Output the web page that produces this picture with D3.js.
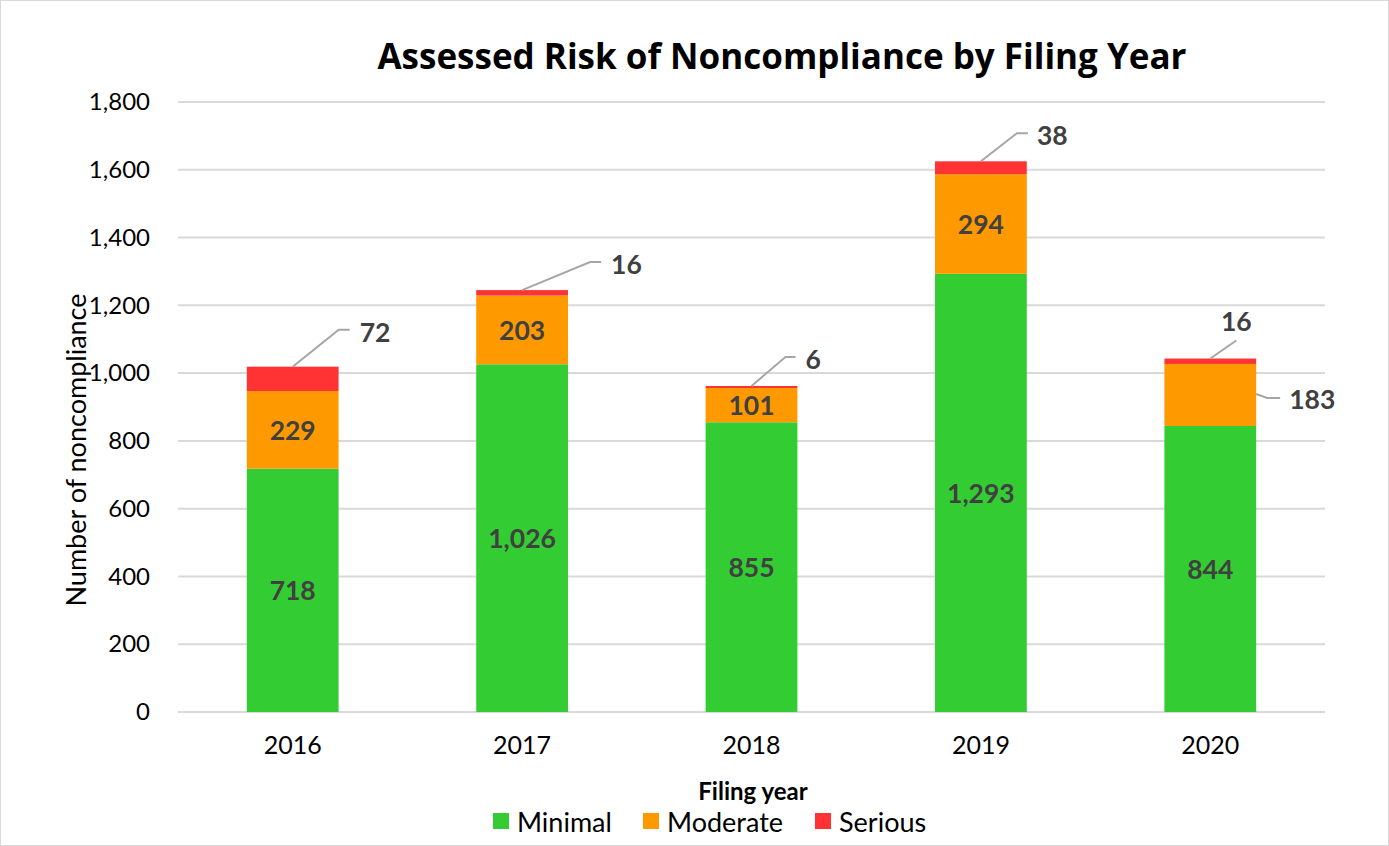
<!DOCTYPE html>
<html>
<head>
<meta charset="utf-8">
<script src="https://cdn.jsdelivr.net/npm/d3@7.9.0/dist/d3.min.js"></script>
<style>
  body { margin: 0; background: #fff; }
  svg text { font-family: Lato, "Open Sans", sans-serif; }
</style>
</head>
<body>
<svg id="chart" width="1389" height="846"></svg>
<script>
// chart data
const years = ['2016', '2017', '2018', '2019', '2020'];
const minimal = [718, 1026, 855, 1293, 844];
const moderate = [229, 203, 101, 294, 183];
const serious = [72, 16, 6, 38, 16];
const seriesNames = ['Minimal', 'Moderate', 'Serious'];
const yTicks = [0, 200, 400, 600, 800, 1000, 1200, 1400, 1600, 1800];

const colors = { Minimal: '#33cc33', Moderate: '#ff9900', Serious: '#ff3333' };

// callout placement for the small labels (pixel offsets from the anchor)
const seriousCallouts = [
  { elbow: [46, -37], end: 57, text: 67, dy: 0, mode: 'side' },
  { elbow: [68, -28], end: 79, text: 89, dy: 0, mode: 'side' },
  { elbow: [34, -29], end: 44, text: 54, dy: 0, mode: 'side' },
  { elbow: [36, -28], end: 47, text: 56, dy: 0, mode: 'side' },
  { elbow: [26, -18], end: 26, text: 26, dy: -38, mode: 'top' }
];

const svg = d3.select('#chart');
const W = 1389, H = 846;
const margin = { left: 178, right: 64, top: 102, bottom: 134 };

// outer border
svg.append('rect')
  .attr('x', 0.5).attr('y', 0.5)
  .attr('width', W - 1).attr('height', H - 1)
  .attr('fill', '#fff').attr('stroke', '#d9d9d9');

const x = d3.scaleBand()
  .domain(years)
  .range([margin.left, W - margin.right])
  .paddingInner(0.6)
  .paddingOuter(0.3);

const y = d3.scaleLinear()
  .domain([0, 1800])
  .range([H - margin.bottom, margin.top]);

// gridlines
svg.append('g')
  .selectAll('line')
  .data(yTicks)
  .join('line')
  .attr('x1', margin.left).attr('x2', W - margin.right)
  .attr('y1', d => y(d)).attr('y2', d => y(d))
  .attr('stroke', '#d9d9d9').attr('stroke-width', 2);

// y axis labels
const yAxis = d3.axisLeft(y).tickValues(yTicks).tickFormat(d3.format(',')).tickSize(0).tickPadding(28);
svg.append('g')
  .attr('transform', `translate(${margin.left},0)`)
  .call(yAxis)
  .call(g => g.select('.domain').remove())
  .selectAll('text')
  .attr('font-size', 24).attr('fill', '#000')
  .style('font-family', 'Lato, sans-serif');

// x axis labels
const xAxis = d3.axisBottom(x).tickSize(0).tickPadding(24);
svg.append('g')
  .attr('transform', `translate(0,${y(0)})`)
  .call(xAxis)
  .call(g => g.select('.domain').remove())
  .selectAll('text')
  .attr('font-size', 25).attr('fill', '#000')
  .style('font-family', 'Lato, sans-serif');

// stack the series
const rows = years.map((yr, i) => ({
  year: yr, Minimal: minimal[i], Moderate: moderate[i], Serious: serious[i]
}));
const stacked = d3.stack().keys(seriesNames)(rows);

svg.append('g')
  .selectAll('g')
  .data(stacked)
  .join('g')
  .attr('fill', d => colors[d.key])
  .selectAll('rect')
  .data(d => d)
  .join('rect')
  .attr('x', d => x(d.data.year))
  .attr('width', x.bandwidth())
  .attr('y', d => y(d[1]))
  .attr('height', d => y(d[0]) - y(d[1]));

const labelColor = '#404040';
const labelSize = 26.5;
const fmt = d3.format(',');

// inside labels for minimal and moderate (2020 moderate goes outside)
stacked.slice(0, 2).forEach(layer => {
  layer.forEach((d, i) => {
    if (layer.key === 'Moderate' && i === 4) return;
    svg.append('text')
      .attr('x', x(d.data.year) + x.bandwidth() / 2)
      .attr('y', (y(d[0]) + y(d[1])) / 2)
      .attr('text-anchor', 'middle')
      .attr('dominant-baseline', 'central')
      .attr('font-size', labelSize).attr('font-weight', 'bold')
      .attr('fill', labelColor)
      .text(fmt(d[1] - d[0]));
  });
});

// serious labels with leader lines
const leader = svg.append('g').attr('fill', 'none').attr('stroke', '#a6a6a6').attr('stroke-width', 2);
stacked[2].forEach((d, i) => {
  const c = seriousCallouts[i];
  const x0 = x(d.data.year) + x.bandwidth() / 2;
  const y0 = y(d[1]);
  const pts = [[x0, y0], [x0 + c.elbow[0], y0 + c.elbow[1]], [x0 + c.end, y0 + c.elbow[1]]];
  leader.append('path').attr('d', d3.line()(pts));
  svg.append('text')
    .attr('x', x0 + c.text)
    .attr('y', c.mode === 'top' ? y0 + c.dy : y0 + c.elbow[1] + 2)
    .attr('text-anchor', c.mode === 'top' ? 'middle' : 'start')
    .attr('dominant-baseline', 'central')
    .attr('font-size', labelSize).attr('font-weight', 'bold')
    .attr('fill', labelColor)
    .text(fmt(d[1] - d[0]));
});

// 2020 moderate label outside on the right
{
  const d = stacked[1][4];
  const x0 = x(d.data.year) + x.bandwidth();
  const y0 = (y(d[0]) + y(d[1])) / 2 - 1;
  leader.append('path').attr('d', d3.line()([[x0, y0], [x0 + 11, y0 + 4], [x0 + 24, y0 + 4]]));
  svg.append('text')
    .attr('x', x0 + 33).attr('y', y0 + 5)
    .attr('dominant-baseline', 'central')
    .attr('font-size', labelSize).attr('font-weight', 'bold')
    .attr('fill', labelColor)
    .text(fmt(d[1] - d[0]));
}

// title
svg.append('text')
  .attr('x', 782).attr('y', 55)
  .attr('text-anchor', 'middle').attr('dominant-baseline', 'central')
  .attr('font-size', 35).attr('font-weight', 'bold')
  .style('font-family', '"Open Sans", sans-serif')
  .attr('fill', '#000')
  .text('Assessed Risk of Noncompliance by Filing Year');

// axis titles
svg.append('text')
  .attr('transform', `translate(75,450) rotate(-90)`)
  .attr('text-anchor', 'middle').attr('dominant-baseline', 'central')
  .attr('font-size', 27).attr('fill', '#000')
  .text('Number of noncompliance');

svg.append('text')
  .attr('x', 753).attr('y', 790)
  .attr('text-anchor', 'middle').attr('dominant-baseline', 'central')
  .attr('font-size', 24).attr('font-weight', 'bold').attr('fill', '#000')
  .text('Filing year');

// legend
const legendX = [493, 643, 815];
const legend = svg.append('g');
seriesNames.forEach((name, i) => {
  legend.append('rect')
    .attr('x', legendX[i]).attr('y', 813)
    .attr('width', 16).attr('height', 16)
    .attr('fill', colors[name]);
  legend.append('text')
    .attr('x', legendX[i] + 24).attr('y', 821)
    .attr('dominant-baseline', 'central')
    .attr('font-size', 27).attr('fill', '#000')
    .text(name);
});
</script>
</body>
</html>
